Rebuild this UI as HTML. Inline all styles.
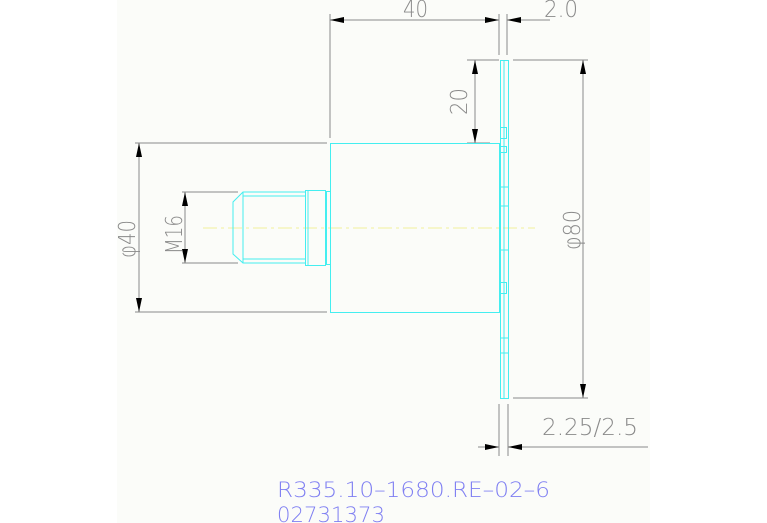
<!DOCTYPE html>
<html><head><meta charset="utf-8"><style>
html,body{margin:0;padding:0;background:#fff;}
svg{display:block;}
text{font-family:"DejaVu Sans","Liberation Sans",sans-serif;font-weight:200;}
</style></head><body>
<svg width="767" height="523" viewBox="0 0 767 523" xmlns="http://www.w3.org/2000/svg">
<rect x="0" y="0" width="767" height="523" fill="#ffffff"/>
<rect x="117" y="0" width="533" height="523" fill="#fbfcf9"/>
<defs>
<marker id="a" viewBox="0 0 14 6" refX="14" refY="3" markerWidth="14" markerHeight="6" markerUnits="userSpaceOnUse" orient="auto-start-reverse"><path d="M0,0 L14,3 L0,6 z" fill="#000"/></marker>
</defs>
<g stroke="#8a8a8a" stroke-width="1" fill="none">
<line x1="330" y1="14" x2="330" y2="138"/>
<line x1="499" y1="14" x2="499" y2="55"/>
<line x1="507" y1="14" x2="507" y2="55"/>
<line x1="330" y1="20" x2="499" y2="20" marker-start="url(#a)" marker-end="url(#a)"/>
<line x1="550" y1="20" x2="507" y2="20" marker-end="url(#a)"/>
<line x1="467" y1="60" x2="499" y2="60"/>
<line x1="513" y1="60" x2="588" y2="60"/>
<line x1="467" y1="143" x2="490" y2="143"/>
<line x1="475" y1="60" x2="475" y2="143" marker-start="url(#a)" marker-end="url(#a)"/>
<line x1="135" y1="143" x2="327" y2="143"/>
<line x1="135" y1="312" x2="327" y2="312"/>
<line x1="139" y1="143" x2="139" y2="312" marker-start="url(#a)" marker-end="url(#a)"/>
<line x1="182" y1="192" x2="238" y2="192"/>
<line x1="182" y1="263" x2="238" y2="263"/>
<line x1="185" y1="192" x2="185" y2="263" marker-start="url(#a)" marker-end="url(#a)"/>
<line x1="513" y1="398" x2="588" y2="398"/>
<line x1="583" y1="60" x2="583" y2="398" marker-start="url(#a)" marker-end="url(#a)"/>
<line x1="499" y1="404" x2="499" y2="456"/>
<line x1="508" y1="404" x2="508" y2="456"/>
<line x1="478" y1="447" x2="499" y2="447" marker-end="url(#a)"/>
<line x1="648" y1="447" x2="508" y2="447" marker-end="url(#a)"/>
</g>
<line x1="203" y1="228" x2="535" y2="228" stroke="#f2ef9a" stroke-width="1" stroke-dasharray="14,4,3,4"/>
<g stroke="#44eef0" stroke-width="1" fill="none">
<rect x="330.5" y="143.5" width="169" height="169"/>
<rect x="500.5" y="60.5" width="8" height="338"/>
<line x1="504" y1="60" x2="504" y2="398"/>
<rect x="500.5" y="127.5" width="6" height="11"/>
<rect x="500.5" y="146.5" width="6" height="6"/>
<line x1="500" y1="187" x2="508" y2="187"/>
<line x1="500" y1="206" x2="508" y2="206"/>
<line x1="500" y1="250" x2="508" y2="250"/>
<rect x="500.5" y="282.5" width="6" height="11"/>
<line x1="500" y1="338" x2="508" y2="338"/>
<line x1="500" y1="353" x2="508" y2="353"/>
<rect x="305.5" y="190.5" width="20" height="75"/>
<line x1="308" y1="191" x2="308" y2="265"/>
<rect x="326.5" y="191.5" width="4" height="73"/>
<path d="M305,192 H243 L233,202 V254 L243,263 H305"/>
<line x1="243" y1="192" x2="243" y2="263"/>
<line x1="243" y1="196" x2="305" y2="196"/>
<line x1="243" y1="259" x2="305" y2="259"/>
</g>
<g fill="#8a8a8a" font-size="23">
<text x="403" y="17" textLength="25" lengthAdjust="spacingAndGlyphs">40</text>
<text x="544" y="17" textLength="34" lengthAdjust="spacingAndGlyphs">2.0</text>
<text x="542" y="435" textLength="96" lengthAdjust="spacingAndGlyphs">2.25/2.5</text>
<text transform="translate(467,115) rotate(-90)" textLength="27" lengthAdjust="spacingAndGlyphs">20</text>
<text transform="translate(135,258) rotate(-90)" textLength="38" lengthAdjust="spacingAndGlyphs">φ40</text>
<text transform="translate(182,254) rotate(-90)" textLength="39" lengthAdjust="spacingAndGlyphs">M16</text>
<text transform="translate(580,250) rotate(-90)" textLength="40" lengthAdjust="spacingAndGlyphs">φ80</text>
</g>
<g fill="#7f7ff2" font-size="21">
<text x="277" y="497" textLength="273" lengthAdjust="spacingAndGlyphs">R335.10–1680.RE–02–6</text>
<text x="277" y="522" textLength="108" lengthAdjust="spacingAndGlyphs">02731373</text>
</g>
</svg>
</body></html>
